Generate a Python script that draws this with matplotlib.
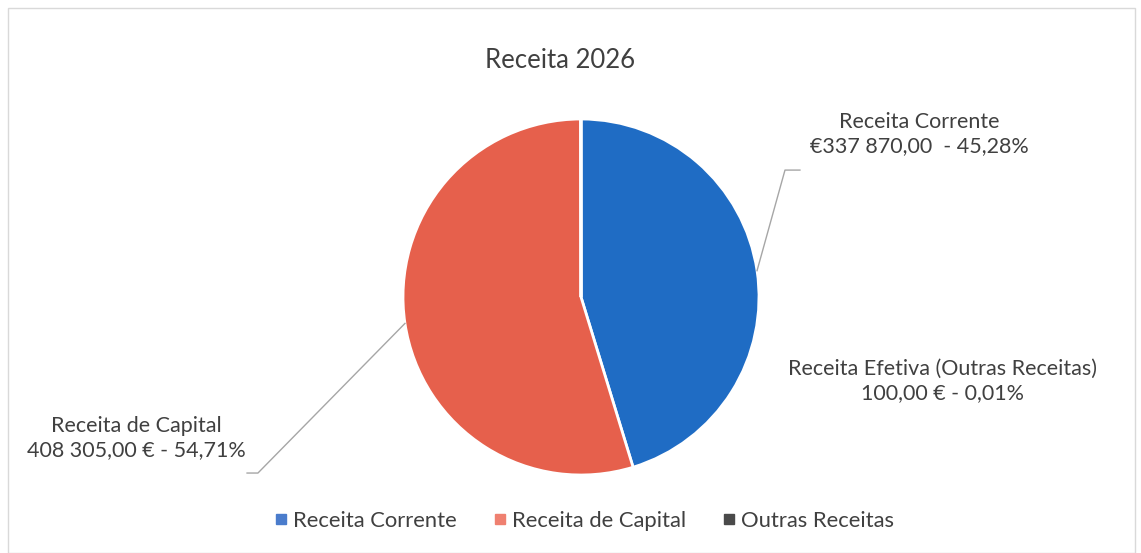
import matplotlib
matplotlib.use("Agg")
import matplotlib.pyplot as plt
from matplotlib.lines import Line2D
from matplotlib.patches import Rectangle
import numpy as np

plt.rcParams['font.family'] = ['Lato', 'DejaVu Sans']

categories = ["Receita Corrente", "Receita de Capital", "Outras Receitas"]
values = [337870.00, 408305.00, 100.00]
label_texts = ["Receita Corrente\n€337 870,00  - 45,28%",
               "Receita de Capital\n408 305,00 € - 54,71%",
               "Receita Efetiva (Outras Receitas)\n100,00 € - 0,01%"]
pie_colors = ["#1f6cc4", "#e6604c", "#3f3f3f"]
legend_colors = ["#4a7ccc", "#ef8070", "#4a4a4a"]
title = "Receita 2026"

W, H = 1141, 553
fig = plt.figure(figsize=(W / 100, H / 100), dpi=100)
fig.patch.set_facecolor("white")
fig.add_artist(Rectangle((8 / W, 0), (W - 14) / W, (H - 8) / H, transform=fig.transFigure,
                         fill=False, edgecolor="#d9d9d9", linewidth=1))

cx, cy, R = 581, 297, 178
ax = fig.add_axes([(cx - R) / W, 1 - (cy + R) / H, 2 * R / W, 2 * R / H])
wedges, _ = ax.pie(values, colors=pie_colors, startangle=90, counterclock=False,
                   wedgeprops=dict(edgecolor="white", linewidth=2), radius=1.0)
ax.set_xlim(-1, 1)
ax.set_ylim(-1, 1)
ax.set_aspect("equal")
ax.axis("off")

txt_color = "#404040"
# label positions (data units, relative to pie radius)
positions = [(1.90, 0.915), (-2.50, -0.79), (2.03, -0.47)]
elbows = [[(1.146, 0.713), (1.23, 0.713)], [(-1.815, -0.989), (-1.876, -0.989)], None]
for i, w in enumerate(wedges):
    ang = np.deg2rad((w.theta1 + w.theta2) / 2)
    x0, y0 = np.cos(ang), np.sin(ang)
    ax.text(*positions[i], label_texts[i], ha="center", va="center", fontsize=15.5,
            color=txt_color, linespacing=1.25, clip_on=False)
    if elbows[i] is not None:
        xs = [x0] + [p[0] for p in elbows[i]]
        ys = [y0] + [p[1] for p in elbows[i]]
        ax.plot(xs, ys, color="#a6a6a6", linewidth=1, clip_on=False)

fig.text(560 / W, 1 - 60 / H, title, ha="center", va="center", fontsize=18.5, color=txt_color)

handles = [Line2D([], [], marker="s", linestyle="none", markersize=6.5, color=c) for c in legend_colors]
fig.legend(handles, categories, loc="center", bbox_to_anchor=(583 / W, 1 - 521 / H), ncol=3,
           frameon=False, fontsize=15.8, handletextpad=0.15, columnspacing=1.55,
           labelcolor=txt_color, handlelength=0.8)

fig.savefig("out.png", dpi=100, facecolor="white")
